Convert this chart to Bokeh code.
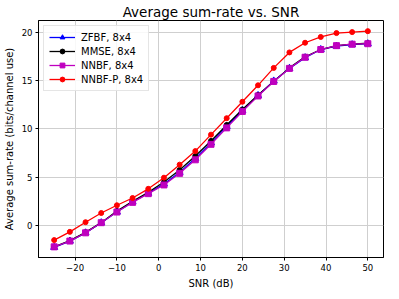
from bokeh.plotting import figure
from bokeh.models import Legend, LegendItem, CustomJSTickFormatter, FixedTicker, Range1d
from bokeh.embed import file_html
from bokeh.resources import INLINE

snr = [-25, -21.25, -17.5, -13.75, -10, -6.25, -2.5, 1.25, 5, 8.75, 12.5,
       16.25, 20, 23.75, 27.5, 31.25, 35, 38.75, 42.5, 46.25, 50]
zfbf = [-2.25, -1.6, -0.75, 0.3, 1.4, 2.45, 3.35, 4.3, 5.5, 6.95, 8.55,
        10.25, 11.9, 13.45, 14.95, 16.25, 17.35, 18.2, 18.55, 18.7, 18.8]
mmse = [-2.2, -1.55, -0.7, 0.3, 1.5, 2.5, 3.45, 4.5, 5.75, 7.2, 8.75,
        10.4, 12.0, 13.5, 14.9, 16.3, 17.45, 18.2, 18.6, 18.75, 18.85]
nnbf = [-2.2, -1.6, -0.75, 0.3, 1.4, 2.4, 3.3, 4.2, 5.4, 6.8, 8.4,
        10.1, 11.8, 13.4, 14.9, 16.25, 17.4, 18.2, 18.6, 18.75, 18.8]
nnbf_p = [-1.5, -0.65, 0.35, 1.3, 2.1, 2.85, 3.8, 4.95, 6.3, 7.7, 9.4,
          11.1, 12.8, 14.5, 16.3, 17.9, 18.9, 19.5, 19.9, 20.0, 20.1]

labels = ["ZFBF, 8x4", "MMSE, 8x4", "NNBF, 8x4", "NNBF-P, 8x4"]
x_ticks = [-20, -10, 0, 10, 20, 30, 40, 50]
y_ticks = [0, 5, 10, 15, 20]

FONT = "DejaVu Sans"

p = figure(width=391, height=291, output_backend="svg", toolbar_location=None,
           x_range=Range1d(-28.75, 53.75), y_range=Range1d(-3.3, 21.2),
           title="Average sum-rate vs. SNR",
           min_border_left=33, min_border_right=8, min_border_top=20, min_border_bottom=32)

p.title.align = "center"
p.title.text_font = FONT
p.title.text_font_style = "normal"
p.title.text_font_size = "13.5px"
p.title.text_color = "black"
p.title.standoff = 2

p.outline_line_color = "black"
p.outline_line_width = 1

fmt = CustomJSTickFormatter(code="return tick < 0 ? '\u2212' + Math.abs(tick) : tick.toString();")
for ax, ticks, lab in ((p.xaxis[0], x_ticks, "SNR (dB)"),
                       (p.yaxis[0], y_ticks, "Average sum-rate (bits/channel use)")):
    ax.ticker = FixedTicker(ticks=ticks)
    ax.formatter = fmt
    ax.axis_label = lab
    ax.axis_label_text_font = FONT
    ax.axis_label_text_font_style = "normal"
    ax.axis_label_text_font_size = "10px"
    ax.axis_label_text_color = "black"
    ax.axis_label_standoff = 4
    ax.major_label_text_font = FONT
    ax.major_label_text_font_size = "8.5px"
    ax.major_label_text_color = "black"
    ax.major_label_standoff = 3
    ax.minor_tick_line_color = None
    ax.major_tick_out = 3
    ax.major_tick_in = 0
    ax.axis_line_color = "black"
    ax.major_tick_line_color = "black"

p.xgrid.ticker = FixedTicker(ticks=x_ticks)
p.ygrid.ticker = FixedTicker(ticks=y_ticks)
p.grid.grid_line_color = "#cfcfcf"
p.grid.grid_line_width = 1

series = [
    (zfbf, "#0000ff", "triangle", 7),
    (mmse, "black", "circle", 5),
    (nnbf, "#bf00bf", "square", 6),
    (nnbf_p, "#ff0000", "circle", 5),
]
items = []
for (ys, color, marker, size), lab in zip(series, labels):
    l = p.line(snr, ys, line_color=color, line_width=1.3)
    s = p.scatter(snr, ys, marker=marker, size=size, fill_color=color, line_color=color)
    items.append(LegendItem(label=lab, renderers=[l, s]))

legend = Legend(items=items, location="top_left", margin=5, padding=5,
                spacing=2, glyph_width=26, glyph_height=12, label_height=12,
                label_text_font=FONT, label_text_font_size="10px",
                label_text_color="black",
                label_standoff=6,
                border_line_color="#cccccc", background_fill_alpha=0.85)
p.add_layout(legend)

open("out.html", "w").write(file_html(p, INLINE))
